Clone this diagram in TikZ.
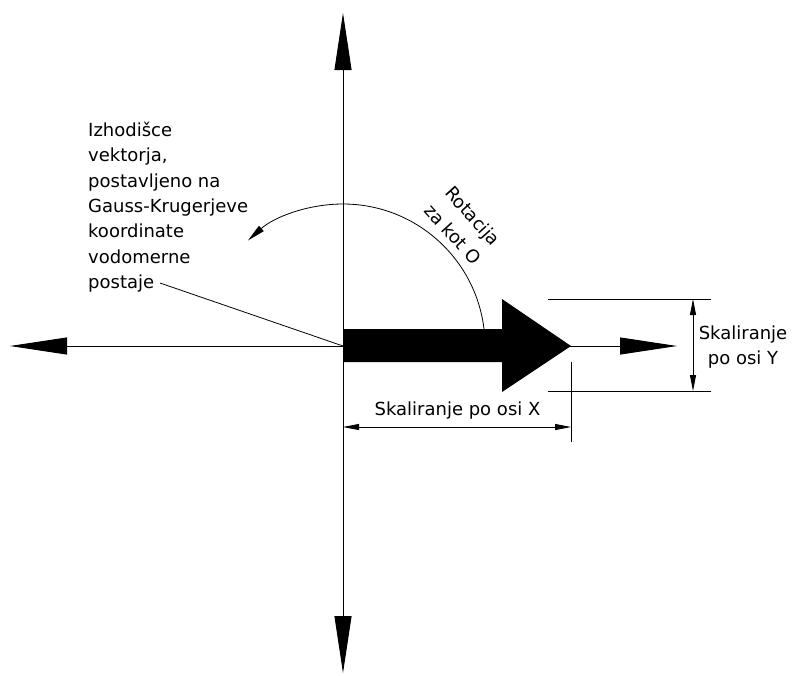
\documentclass[tikz,border=0pt]{standalone}
\usepackage{fontspec}
\setmainfont{DejaVu Sans}
\usetikzlibrary{arrows.meta}
\begin{document}
\begin{tikzpicture}[x=1pt,y=-1pt,
  every node/.style={font=\fontsize{18}{25.3}\selectfont, inner sep=0pt},
  axisline/.style={line width=0.9pt,
    {Triangle[length=57pt,width=17pt]}-{Triangle[length=57pt,width=17pt]}},
  thinline/.style={line width=0.8pt},
  dimline/.style={line width=0.8pt,
    {Triangle[length=16pt,width=6pt]}-{Triangle[length=16pt,width=6pt]}},
  rotarrow/.style={line width=0.8pt, -{Triangle[length=18pt,width=7pt]}}
]
\useasboundingbox (0,0) rectangle (792,675);
% key points
\coordinate (O) at (343,346);
\coordinate (ytop) at (343,13);
\coordinate (ybot) at (343,673);
\coordinate (xleft) at (10,346);
\coordinate (xright) at (677,346);
% axes
\draw[axisline] (ytop) -- (ybot);
\draw[axisline] (xleft) -- (xright);
% rotation arc
\coordinate (arcstart) at (485,346);
\draw[rotarrow] (arcstart) arc[start angle=0, end angle=-132, radius=142];
% big vector arrow
\fill (343,329) -- (502,329) -- (502,299) -- (571,346) -- (502,392)
      -- (502,362) -- (343,362) -- cycle;
\coordinate (tip) at (571,346);
% texts
\node[align=left, anchor=north west] (origtxt) at (88,122)
  {Izhodišce\\vektorja,\\postavljeno na\\Gauss-Krugerjeve\\koordinate\\vodomerne\\postaje};
\coordinate (lead) at (160,283);
\draw[thinline] (lead) -- (O);
\node[align=center, rotate=-48, font=\fontsize{18}{27}\selectfont] (rottxt) at (463,225) {Rotacija\\za kot O};
% X scaling dimension
\coordinate (xe1) at (571,362);
\coordinate (xe2) at (571,442);
\draw[thinline] (xe1) -- (xe2);
\coordinate (xd1) at (343,427);
\coordinate (xd2) at (571,427);
\draw[dimline] (xd1) -- (xd2);
\node (xtxt) at (457.5,411) {Skaliranje po osi X};
% Y scaling dimension
\coordinate (ye1a) at (548,299);
\coordinate (ye1b) at (711,299);
\coordinate (ye2a) at (548,391);
\coordinate (ye2b) at (711,391);
\draw[thinline] (ye1a) -- (ye1b);
\draw[thinline] (ye2a) -- (ye2b);
\coordinate (yd1) at (693,299);
\coordinate (yd2) at (693,391);
\draw[dimline] (yd1) -- (yd2);
\node[align=center] (ytxt) at (743,347) {Skaliranje\\po osi Y};
\end{tikzpicture}
\end{document}
